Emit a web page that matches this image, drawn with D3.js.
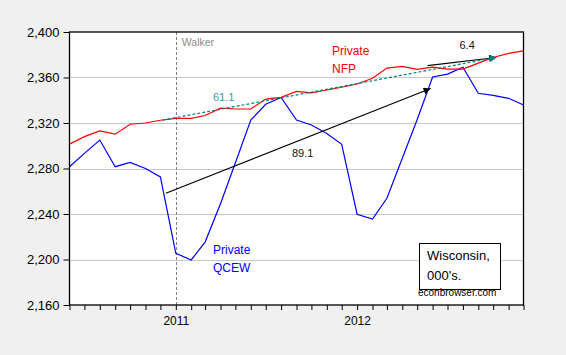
<!DOCTYPE html>
<html>
<head>
<meta charset="utf-8">
<script src="https://cdn.jsdelivr.net/npm/d3@7"></script>
<style>
  html, body { margin: 0; padding: 0; background: #f0f0f0; }
  svg { display: block; font-family: "Liberation Sans", Arial, sans-serif; }
</style>
</head>
<body>
<svg id="chart" width="566" height="355"></svg>
<script>
// ---- data ----
const months = ["2010-06","2010-07","2010-08","2010-09","2010-10","2010-11","2010-12",
  "2011-01","2011-02","2011-03","2011-04","2011-05","2011-06","2011-07","2011-08","2011-09",
  "2011-10","2011-11","2011-12","2012-01","2012-02","2012-03","2012-04","2012-05","2012-06",
  "2012-07","2012-08","2012-09","2012-10","2012-11","2012-12"];
const privateNFP = [2301.4, 2308.0, 2313.0, 2310.2, 2318.9, 2320.0, 2322.4,
  2324.1, 2324.1, 2326.6, 2333.0, 2332.3, 2332.3, 2341.0, 2342.6, 2347.8,
  2346.5, 2349.0, 2351.4, 2354.3, 2359.3, 2368.3, 2369.8, 2367.2, 2369.2,
  2367.3, 2367.4, 2372.6, 2377.6, 2381.2, 2383.4];
const privateQCEW = [2281.6, 2293.3, 2305.0, 2281.6, 2285.4, 2280.0, 2272.6,
  2205.5, 2199.6, 2215.3, 2249.0, 2285.0, 2322.6, 2336.5, 2342.5, 2322.6,
  2318.2, 2310.8, 2301.3, 2239.8, 2235.6, 2253.8, 2289.0, 2323.0, 2360.5,
  2363.0, 2369.0, 2346.1, 2344.3, 2341.7, 2335.8];
const yTicks = [2160, 2200, 2240, 2280, 2320, 2360, 2400];
const xTickLabels = ["2011", "2012"];
const walkerDate = "2011-01-01";
// annotation arrows: [startDate, startValue, endDate, endValue]
const arrowTeal = ["2010-12-06", 2322.6, "2012-10-08", 2377.7];
const arrowQCEW = ["2010-12-12", 2258.2, "2012-05-28", 2350.3];
const arrowNFP  = ["2012-05-22", 2370.4, "2012-10-07", 2377.6];
const arrowLabels = ["61.1", "89.1", "6.4"];

// ---- layout ----
const svg = d3.select("#chart");
const L = 69.5, R = 523.5, T = 32, B = 305;
const parseM = d3.timeParse("%Y-%m");
const parseD = d3.timeParse("%Y-%m-%d");
const dates = months.map(parseM);

const x = d3.scaleTime().domain([dates[0], dates[dates.length - 1]]).range([L, R]);
const y = d3.scaleLinear().domain([2160, 2400]).range([B, T]);

// plot background
svg.append("rect").attr("x", L).attr("y", T).attr("width", R - L).attr("height", B - T)
  .attr("fill", "#fff");

// gridlines
svg.append("g").selectAll("line").data(yTicks.filter(v => v > 2160 && v < 2400)).join("line")
  .attr("x1", L).attr("x2", R)
  .attr("y1", d => Math.round(y(d)) + 0.5).attr("y2", d => Math.round(y(d)) + 0.5)
  .attr("stroke", "#c8c8c8").attr("stroke-width", 1);

// Walker line
svg.append("line")
  .attr("x1", Math.round(x(parseD(walkerDate))) + 0.5).attr("x2", Math.round(x(parseD(walkerDate))) + 0.5)
  .attr("y1", T).attr("y2", B)
  .attr("stroke", "#808080").attr("stroke-width", 1).attr("stroke-dasharray", "3,2");
svg.append("text").attr("x", x(parseD(walkerDate)) + 6).attr("y", 45.5)
  .attr("font-size", "10.5px").attr("fill", "#8c8c8c").text("Walker");

// arrow markers
const defs = svg.append("defs");
function marker(id, color) {
  defs.append("marker").attr("id", id).attr("viewBox", "0 0 10 10")
    .attr("refX", 10).attr("refY", 5).attr("markerWidth", 8).attr("markerHeight", 7)
    .attr("markerUnits", "userSpaceOnUse").attr("orient", "auto")
    .append("path").attr("d", "M0,0 L10,5 L0,10 Z").attr("fill", color);
}
marker("hBlack", "#000");
marker("hTeal", "#008080");

// series lines
const line = d3.line().x((d, i) => x(dates[i])).y(d => y(d));
svg.append("path").datum(privateQCEW).attr("d", line)
  .attr("fill", "none").attr("stroke", "#0000ff").attr("stroke-width", 1.2);
svg.append("path").datum(privateNFP).attr("d", line)
  .attr("fill", "none").attr("stroke", "#ff0000").attr("stroke-width", 1.2);

// annotation arrows
function arrow(a, color, mk, dash) {
  svg.append("line")
    .attr("x1", x(parseD(a[0]))).attr("y1", y(a[1]))
    .attr("x2", x(parseD(a[2]))).attr("y2", y(a[3]))
    .attr("stroke", color).attr("stroke-width", 1.2)
    .attr("stroke-dasharray", dash)
    .attr("marker-end", `url(#${mk})`);
}
arrow(arrowQCEW, "#000", "hBlack", null);
arrow(arrowNFP, "#000", "hBlack", null);
arrow(arrowTeal, "#008080", "hTeal", "3,2");

svg.append("text").attr("x", 213).attr("y", 101).attr("font-size", "11px")
  .attr("fill", "#3a9aa8").text(arrowLabels[0]);
svg.append("text").attr("x", 292).attr("y", 157).attr("font-size", "11px")
  .attr("fill", "#111").text(arrowLabels[1]);
svg.append("text").attr("x", 459.5).attr("y", 49).attr("font-size", "11px")
  .attr("fill", "#111").text(arrowLabels[2]);

// series labels
svg.append("text").attr("x", 332).attr("y", 54.5).attr("font-size", "12px").attr("fill", "#ff0000").text("Private");
svg.append("text").attr("x", 332).attr("y", 73).attr("font-size", "12px").attr("fill", "#ff0000").text("NFP");
svg.append("text").attr("x", 213).attr("y", 253.5).attr("font-size", "12px").attr("fill", "#0000ff").text("Private");
svg.append("text").attr("x", 213).attr("y", 272).attr("font-size", "12px").attr("fill", "#0000ff").text("QCEW");

// note box
svg.append("rect").attr("x", 419.5).attr("y", 243.5).attr("width", 81).attr("height", 46)
  .attr("fill", "#fff").attr("stroke", "#000").attr("stroke-width", 1);
svg.append("text").attr("x", 427).attr("y", 260).attr("font-size", "13px").attr("fill", "#000").text("Wisconsin,");
svg.append("text").attr("x", 427).attr("y", 279.5).attr("font-size", "13px").attr("fill", "#000").text("000's.");
svg.append("text").attr("x", 418).attr("y", 296).attr("font-size", "10px").attr("fill", "#000").text("econbrowser.com");

// frame
svg.append("rect").attr("x", L).attr("y", T).attr("width", R - L).attr("height", B - T)
  .attr("fill", "none").attr("stroke", "#000").attr("stroke-width", 1.3);

// y axis
const yAxis = d3.axisLeft(y).tickValues(yTicks).tickSize(6).tickPadding(4)
  .tickFormat(d3.format(","));
const gy = svg.append("g").attr("transform", `translate(${L},0)`).call(yAxis);
gy.select(".domain").remove();
gy.selectAll("text").attr("font-size", "13px").attr("font-family", "Liberation Sans, Arial, sans-serif").attr("fill", "#000");
gy.selectAll("line").attr("stroke", "#000");

// x axis
const xAxis = d3.axisBottom(x).tickValues(dates).tickSize(5).tickPadding(6)
  .tickFormat(d => (d.getMonth() === 0 ? d3.timeFormat("%Y")(d) : ""));
const gx = svg.append("g").attr("transform", `translate(0,${B})`).call(xAxis);
gx.select(".domain").remove();
gx.selectAll("text").attr("font-size", "12px").attr("font-family", "Liberation Sans, Arial, sans-serif").attr("fill", "#000");
gx.selectAll("line").attr("stroke", "#000");
</script>
</body>
</html>
